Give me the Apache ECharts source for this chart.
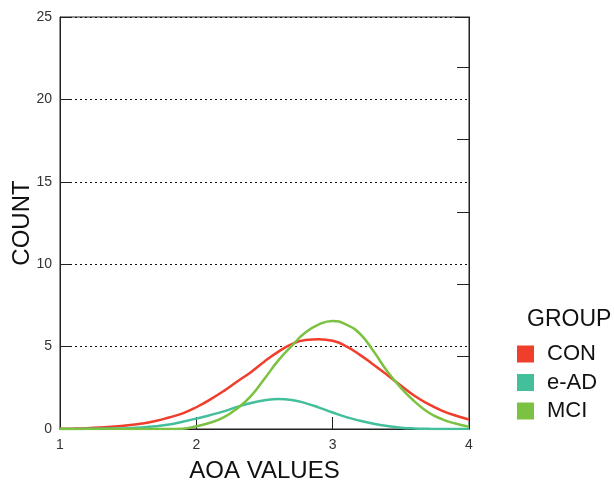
<!DOCTYPE html>
<html>
<head>
<meta charset="utf-8">
<script src="https://cdn.jsdelivr.net/npm/echarts@6/dist/echarts.min.js"></script>
<style>
html,body{margin:0;padding:0;background:#fff;}
#chart{width:614px;height:483px;}
</style>
</head>
<body>
<div id="chart"></div>
<script>
// AOA values sampled along the x axis
const xValues = [1.0,1.1,1.2,1.3,1.4,1.5,1.6,1.7,1.8,1.9,2.0,2.1,2.2,2.3,2.4,2.5,2.6,2.7,2.8,2.9,3.0,3.1,3.2,3.3,3.4,3.5,3.6,3.7,3.8,3.9,4.0];
const groupNames = ['CON','e-AD','MCI'];
const conValues = [0.02,0.03,0.05,0.09,0.15,0.23,0.33,0.48,0.70,0.95,1.32,1.78,2.30,2.88,3.45,4.10,4.68,5.15,5.40,5.45,5.35,5.02,4.50,3.90,3.28,2.64,2.02,1.52,1.12,0.82,0.58];
const eadValues = [0,0,0.01,0.02,0.03,0.05,0.09,0.16,0.27,0.44,0.63,0.84,1.07,1.34,1.58,1.74,1.82,1.76,1.57,1.30,1.00,0.72,0.50,0.32,0.18,0.08,0.03,0.01,0,0,0];
const mciValues = [0,0,0,0,0,0,0,0,0,0.02,0.17,0.38,0.70,1.25,2.00,3.05,4.15,5.05,5.85,6.35,6.55,6.33,5.78,4.72,3.50,2.50,1.68,1.02,0.60,0.33,0.14];
const yTicks = [0,5,10,15,20,25];
const xTicks = [1,2,3,4];

const colors = ['#EF3E2C','#43BF9C','#7CC242'];
const font = "'Liberation Sans', Arial, sans-serif";
const pair = arr => xValues.map((x,i) => [x, arr[i]]);
const seriesValues = [conValues, eadValues, mciValues];

const chart = echarts.init(document.getElementById('chart'), null, {renderer:'canvas'});
chart.setOption({
  animation: false,
  backgroundColor: '#fff',
  textStyle: {fontFamily: font},
  grid: {left: 60, right: 145, top: 17, bottom: 54, show: true, borderColor: '#222', borderWidth: 1,
         containLabel: false, outerBoundsMode: 'none'},
  legend: {
    orient: 'vertical',
    left: 517, top: 343,
    padding: 0,
    itemWidth: 17, itemHeight: 17, itemGap: 6.5,
    icon: 'rect',
    data: groupNames,
    textStyle: {fontFamily: font, fontSize: 22, color: '#111', lineHeight: 17, padding: [0,0,0,8]}
  },
  graphic: [{
    type: 'text', left: 527, top: 308,
    style: {text: 'GROUP', font: "23px 'Liberation Sans', Arial, sans-serif", fill: '#111'}
  }],
  xAxis: [{
    type: 'value', min: xTicks[0], max: xTicks[xTicks.length-1], interval: 1,
    name: 'AOA VALUES', nameLocation: 'middle', nameGap: 30,
    nameTextStyle: {fontFamily: font, fontSize: 24, color: '#111'},
    axisLine: {show: true, lineStyle: {color: '#222', width: 1}},
    axisTick: {show: true, inside: true, length: 12, lineStyle: {color: '#222'}},
    axisLabel: {margin: 9, fontSize: 14, color: '#333', fontFamily: font},
    splitLine: {show: false}
  }],
  yAxis: [{
    type: 'value', min: yTicks[0], max: yTicks[yTicks.length-1], interval: 5,
    name: 'COUNT', nameLocation: 'middle', nameGap: 26, nameMoveOverlap: false,
    nameTextStyle: {fontFamily: font, fontSize: 24, color: '#111'},
    axisLine: {show: true, lineStyle: {color: '#222', width: 1}},
    axisTick: {show: true, inside: true, length: 10, lineStyle: {color: '#222'}},
    axisLabel: {margin: 8, fontSize: 14, color: '#333', fontFamily: font},
    splitLine: {show: true, lineStyle: {color: '#111', width: 1, type: [2,3]}}
  },{
    type: 'value', position: 'right', min: 0, max: 5.69, interval: 1,
    axisLine: {show: true, lineStyle: {color: '#222', width: 1}},
    axisTick: {show: true, inside: true, length: 12, lineStyle: {color: '#222'}},
    axisLabel: {show: false},
    splitLine: {show: false}
  }],
  series: groupNames.map((name, i) => ({
    name: name,
    type: 'line',
    yAxisIndex: 0,
    data: pair(seriesValues[i]),
    smooth: 0.5,
    showSymbol: false,
    symbol: 'none',
    color: colors[i],
    itemStyle: {color: colors[i]},
    lineStyle: {color: colors[i], width: 2.5},
    z: 3 + i
  }))
});
</script>
</body>
</html>
